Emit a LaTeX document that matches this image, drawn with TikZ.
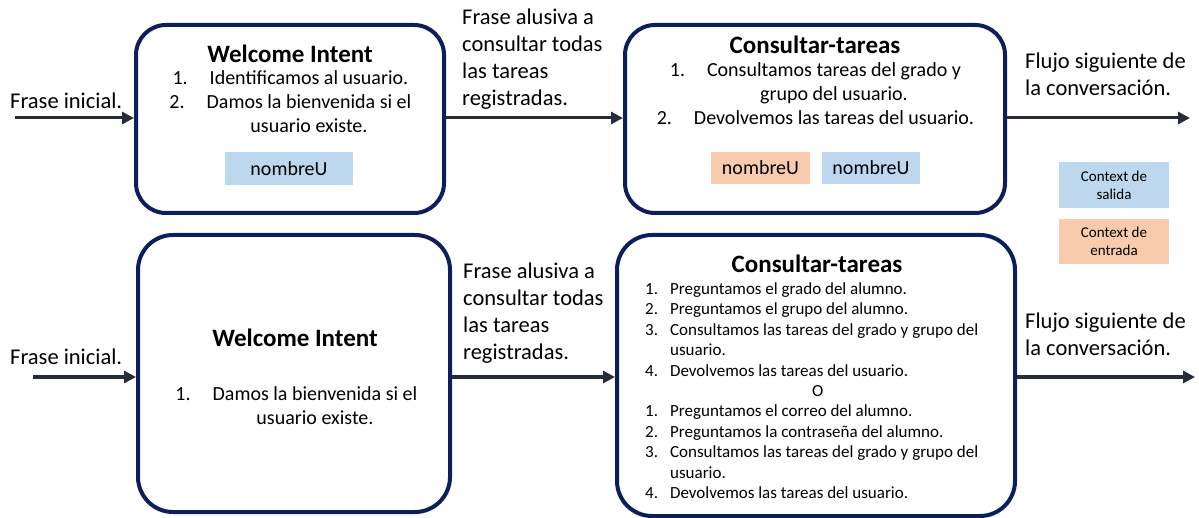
\documentclass[tikz,border=0pt]{standalone}
\usepackage{fontspec}
\setmainfont{Carlito}
\usetikzlibrary{arrows.meta}
\definecolor{navyline}{RGB}{12,30,92}
\definecolor{arrowgray}{RGB}{38,44,56}
\definecolor{ctxblue}{RGB}{189,215,238}
\definecolor{ctxorange}{RGB}{248,203,173}
\begin{document}
\begin{tikzpicture}[x=1pt, y=-1pt,
    intent/.style={draw=navyline, line width=4pt, rounded corners=30pt, fill=white, inner sep=0pt},
    title/.style={font=\bfseries\fontsize{25}{30}\selectfont, inner sep=0pt},
    steps/.style={font=\fontsize{20}{24}\selectfont, inner sep=0pt, anchor=north},
    smallsteps/.style={font=\fontsize{17}{20.4}\selectfont, inner sep=0pt, anchor=north west},
    phrase/.style={font=\fontsize{22.5}{27}\selectfont, inner sep=0pt, anchor=north west},
    ctxout/.style={fill=ctxblue, inner sep=0pt, font=\fontsize{20}{24}\selectfont},
    ctxin/.style={fill=ctxorange, inner sep=0pt, font=\fontsize{20}{24}\selectfont},
    legend/.style={inner sep=0pt, minimum width=110pt, align=center, font=\fontsize{15}{18}\selectfont},
    flow/.style={-{Triangle[length=12pt,width=12pt]}, line width=3pt, draw=arrowgray}]
  \useasboundingbox (0,0) rectangle (1199,518);

  % first flow
  \node[intent, minimum width=308pt, minimum height=188pt] (wt) at (290,119) {};
  \node[intent, minimum width=380pt, minimum height=188pt] (ct) at (815,119) {};
  \node[title] (wttitle) at (290,54) {Welcome Intent};
  \node[steps] (wtsteps) at (309,68) {\begin{tabular}{@{}c@{}}
      \llap{1.\hspace{22pt}}Identificamos al usuario.\\
      \llap{2.\hspace{22pt}}Damos la bienvenida si el\\
      usuario existe.
    \end{tabular}};
  \node[ctxout, minimum width=128pt, minimum height=33pt] (wtout) at (289,168.5) {nombreU};
  \node[title] (cttitle) at (815,45) {Consultar-tareas};
  \node[steps] (ctsteps) at (834,60) {\begin{tabular}{@{}c@{}}
      \llap{1.\hspace{22pt}}Consultamos tareas del grado y\\
      grupo del usuario.\\
      \llap{2.\hspace{22pt}}Devolvemos las tareas del usuario.
    \end{tabular}};
  \node[ctxin, minimum width=99pt, minimum height=32pt] (ctin) at (760.5,168) {nombreU};
  \node[ctxout, minimum width=98pt, minimum height=32pt] (ctout) at (871,168) {nombreU};

  \coordinate (in1) at (15,118);
  \coordinate (out1) at (1190,118);
  \node[phrase, anchor=west] (start1) at (10,101) {Frase inicial.};
  \node[phrase] (ask1) at (462,5) {\begin{tabular}{@{}l@{}}Frase alusiva a\\consultar todas\\las tareas\\registradas.\end{tabular}};
  \node[phrase] (next1) at (1025,49) {\begin{tabular}{@{}l@{}}Flujo siguiente de\\la conversación.\end{tabular}};
  \draw[flow] (in1) -- (in1 -| wt.west);
  \draw[flow] (wt.east |- in1) -- (ct.west |- in1);
  \draw[flow] (ct.east |- in1) -- (out1);

  % legend
  \node[legend, fill=ctxblue, minimum height=46pt] (legout) at (1114,185) {Context de\\salida};
  \node[legend, fill=ctxorange, minimum height=45pt] (legin) at (1114,241.5) {Context de\\entrada};

  % second flow
  \node[intent, rounded corners=35pt, minimum width=312pt, minimum height=277pt] (wb) at (294,373.5) {};
  \node[intent, rounded corners=35pt, minimum width=398pt, minimum height=281pt] (cb) at (816,375.5) {};
  \node[title] (wbtitle) at (295,338) {Welcome Intent};
  \node[steps] (wbsteps) at (315,383) {\begin{tabular}{@{}c@{}}
      \llap{1.\hspace{22pt}}Damos la bienvenida si el\\
      usuario existe.
    \end{tabular}};
  \node[title] (cbtitle) at (817,264) {Consultar-tareas};
  \node[smallsteps] (cbsteps) at (645,280) {\begin{tabular}{@{}r@{\hspace{12pt}}l@{}}
      1. & Preguntamos el grado del alumno.\\
      2. & Preguntamos el grupo del alumno.\\
      3. & Consultamos las tareas del grado y grupo del\\
         & usuario.\\
      4. & Devolvemos las tareas del usuario.\\
      \multicolumn{2}{@{}c@{}}{\hspace{12pt}O}\\
      1. & Preguntamos el correo del alumno.\\
      2. & Preguntamos la contraseña del alumno.\\
      3. & Consultamos las tareas del grado y grupo del\\
         & usuario.\\
      4. & Devolvemos las tareas del usuario.
    \end{tabular}};

  \coordinate (in2) at (33,377);
  \coordinate (out2) at (1195,377);
  \node[phrase, anchor=west] (start2) at (10,357) {Frase inicial.};
  \node[phrase] (ask2) at (463,259) {\begin{tabular}{@{}l@{}}Frase alusiva a\\consultar todas\\las tareas\\registradas.\end{tabular}};
  \node[phrase] (next2) at (1025,309) {\begin{tabular}{@{}l@{}}Flujo siguiente de\\la conversación.\end{tabular}};
  \draw[flow] (in2) -- (in2 -| wb.west);
  \draw[flow] (wb.east |- in2) -- (cb.west |- in2);
  \draw[flow] (cb.east |- in2) -- (out2);
\end{tikzpicture}
\end{document}
